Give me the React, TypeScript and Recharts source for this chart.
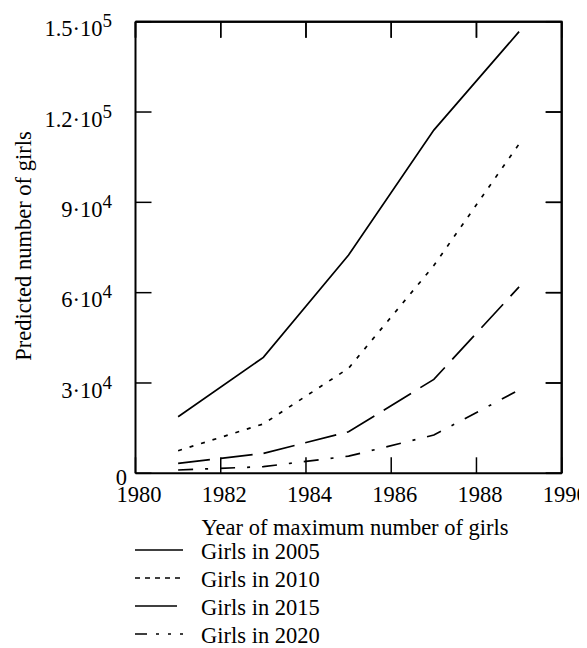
import { LineChart, Line, XAxis, YAxis, Legend, CartesianGrid } from "recharts";

const YEARS = [1981, 1983, 1985, 1987, 1989];
const GIRLS_2005 = [18800, 38500, 72500, 114000, 146700];
const GIRLS_2010 = [7500, 16400, 34900, 69000, 109400];
const GIRLS_2015 = [3300, 6600, 13800, 31200, 61900];
const GIRLS_2020 = [1100, 2200, 5700, 12700, 27700];

const X_TICKS = [1980, 1982, 1984, 1986, 1988, 1990];
const Y_TICKS = [0, 30000, 60000, 90000, 120000, 150000];
// mantissa / exponent for the y labels
const Y_LABELS: Record<number, [string, string]> = {
  0: ["0", ""],
  30000: ["3\u00b710", "4"],
  60000: ["6\u00b710", "4"],
  90000: ["9\u00b710", "4"],
  120000: ["1.2\u00b710", "5"],
  150000: ["1.5\u00b710", "5"],
};

const SERIES = [
  { key: "g2005", name: "Girls in 2005", dash: undefined, legendDash: undefined },
  { key: "g2010", name: "Girls in 2010", dash: "4 8", legendDash: "5 5" },
  { key: "g2015", name: "Girls in 2015", dash: "32 11", legendDash: "42 6 2 6" },
  { key: "g2020", name: "Girls in 2020", dash: "15 12 3 12", legendDash: "12 9 3 9 3 9" },
];

const data = YEARS.map((year, i) => ({
  year,
  g2005: GIRLS_2005[i],
  g2010: GIRLS_2010[i],
  g2015: GIRLS_2015[i],
  g2020: GIRLS_2020[i],
}));

const FONT = "'Liberation Serif', 'Times New Roman', serif";
const FS = 22.5;
const TICK = 16;

const W = 571;
const H = 640;
const MARGIN = { top: 13.7, right: 17.3, bottom: 144.7, left: 0 };
const Y_AXIS_W = 127.5;
const X_AXIS_H = 30;

const XTick = (props: any) => {
  const { x, y, payload } = props;
  return (
    <text x={x + 3.5} y={y + 28.4} textAnchor="middle" fontFamily={FONT} fontSize={FS} fill="#000">
      {payload.value}
    </text>
  );
};

const YTick = (props: any) => {
  const { x, y, payload } = props;
  const [m, e] = Y_LABELS[payload.value] ?? [String(payload.value), ""];
  if (!e) {
    return (
      <text x={x - 8.5} y={y + 11.7} textAnchor="end" fontFamily={FONT} fontSize={FS} fill="#000">
        {m}
      </text>
    );
  }
  return (
    <text x={x - 23.5} y={y + 14.7} textAnchor="end" fontFamily={FONT} fontSize={FS} fill="#000">
      {m}
      <tspan dy={-9} fontSize={19}>{e}</tspan>
    </text>
  );
};

// grid lines reused as the box: top edge in full, the rest as inward ticks on the right
const HLine = (p: any) => {
  const right = p.x + p.width;
  if (Math.abs(p.y1 - p.y) < 0.5) {
    return <line key={p.key} x1={p.x} x2={right} y1={p.y1} y2={p.y1} stroke="#000" strokeWidth={2} />;
  }
  return <line key={p.key} x1={right - TICK} x2={right} y1={p.y1} y2={p.y1} stroke="#000" strokeWidth={1.5} />;
};

// right edge in full, the rest as inward ticks hanging from the top
const VLine = (p: any) => {
  const right = p.x + p.width;
  if (Math.abs(p.x1 - right) < 0.5) {
    return <line key={p.key} x1={p.x1} x2={p.x1} y1={p.y} y2={p.y + p.height} stroke="#000" strokeWidth={2} />;
  }
  return <line key={p.key} x1={p.x1} x2={p.x1} y1={p.y} y2={p.y + TICK} stroke="#000" strokeWidth={1.5} />;
};

// same box again on top of the chart, in case the grid layer is not painted
const Frame = () => {
  const left = MARGIN.left + Y_AXIS_W;
  const top = MARGIN.top;
  const right = W - MARGIN.right;
  const bottom = H - MARGIN.bottom - X_AXIS_H;
  const x0 = X_TICKS[0];
  const x1 = X_TICKS[X_TICKS.length - 1];
  const yMax = Y_TICKS[Y_TICKS.length - 1];
  const sx = (v: number) => left + ((v - x0) / (x1 - x0)) * (right - left);
  const sy = (v: number) => bottom - (v / yMax) * (bottom - top);
  return (
    <svg width={W} height={H} style={{ position: "absolute", left: 0, top: 0, pointerEvents: "none" }}>
      <path d={`M${left},${top}H${right}V${bottom}`} fill="none" stroke="#000" strokeWidth={2} />
      {X_TICKS.map((t) => (
        <line key={`tx${t}`} x1={sx(t)} x2={sx(t)} y1={top} y2={top + TICK} stroke="#000" strokeWidth={1.5} />
      ))}
      {Y_TICKS.map((t) => (
        <line key={`ty${t}`} x1={right - TICK} x2={right} y1={sy(t)} y2={sy(t)} stroke="#000" strokeWidth={1.5} />
      ))}
    </svg>
  );
};

const XTitle = (props: any) => {
  const vb = props.viewBox;
  return (
    <text x={vb.x + vb.width / 2 + 6.5} y={vb.y + 61.7} textAnchor="middle" fontFamily={FONT} fontSize={FS} fill="#000">
      Year of maximum number of girls
    </text>
  );
};

const YTitle = (props: any) => {
  const vb = props.viewBox;
  const cx = 23;
  const cy = vb.y + vb.height / 2 - 1.5;
  return (
    <text
      x={cx}
      y={cy}
      transform={`rotate(-90, ${cx}, ${cy})`}
      textAnchor="middle"
      fontFamily={FONT}
      fontSize={FS}
      fill="#000"
    >
      Predicted number of girls
    </text>
  );
};

const renderLegend = () => (
  <svg width={320} height={120}>
    {SERIES.map((s, i) => {
      const cy = 12 + i * 28;
      return (
        <g key={s.key}>
          <line x1={0} x2={48} y1={cy} y2={cy} stroke="#000" strokeWidth={1.7} strokeDasharray={s.legendDash} />
          <text x={66} y={cy + 8.5} fontFamily={FONT} fontSize={FS} fill="#000">
            {s.name}
          </text>
        </g>
      );
    })}
  </svg>
);

export default function App() {
  return (
    <div style={{ position: "relative", width: W, height: H }}>
      <LineChart width={W} height={H} data={data} margin={MARGIN}>
        <CartesianGrid horizontal={HLine} vertical={VLine} syncWithTicks />
        <XAxis
          dataKey="year"
          type="number"
          domain={[X_TICKS[0], X_TICKS[X_TICKS.length - 1]]}
          ticks={X_TICKS}
          allowDataOverflow
          stroke="#000"
          axisLine={{ strokeWidth: 2 }}
          tickLine={{ strokeWidth: 1.5 }}
          tickSize={-TICK}
          tickMargin={TICK}
          tick={<XTick />}
          height={X_AXIS_H}
          label={XTitle}
        />
        <YAxis
          type="number"
          domain={[0, Y_TICKS[Y_TICKS.length - 1]]}
          ticks={Y_TICKS}
          allowDataOverflow
          stroke="#000"
          axisLine={{ strokeWidth: 2 }}
          tickLine={{ strokeWidth: 1.5 }}
          tickSize={-TICK}
          tickMargin={TICK}
          tick={<YTick />}
          width={Y_AXIS_W}
          label={YTitle}
        />
        {SERIES.map((s) => (
          <Line
            key={s.key}
            dataKey={s.key}
            name={s.name}
            type="linear"
            stroke="#000"
            strokeWidth={1.7}
            strokeDasharray={s.dash}
            dot={false}
            isAnimationActive={false}
          />
        ))}
        <Legend
          content={renderLegend}
          wrapperStyle={{ position: "absolute", left: 127, top: 530, width: 0, height: 0, overflow: "visible" }}
        />
      </LineChart>
      <Frame />
    </div>
  );
}
